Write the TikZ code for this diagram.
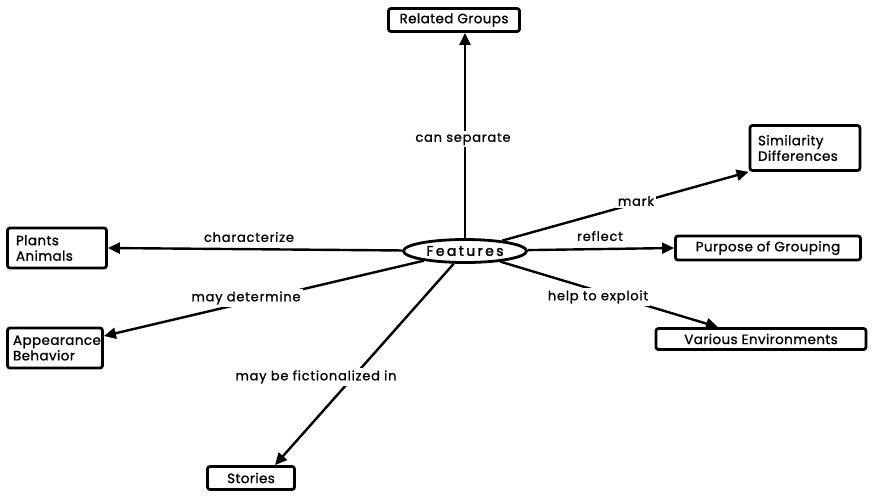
\documentclass[tikz,border=0pt]{standalone}
\usepackage{fontspec}
\setmainfont{Poppins}[FakeBold=1]
\usetikzlibrary{arrows.meta,shapes.geometric}
\begin{document}
\begin{tikzpicture}[x=1pt,y=-1pt,
  concept/.style={draw,line width=2.8pt,rounded corners=2.5pt,inner sep=0pt,
    font=\fontsize{13.5}{15.5}\selectfont\addfontfeatures{LetterSpace=3},align=left},
  hub/.style={draw,ellipse,line width=2.8pt,inner sep=0pt,
    minimum width=123pt,minimum height=23pt,
    font=\fontsize{14}{15}\selectfont\addfontfeatures{LetterSpace=17,FakeBold=2}},
  link/.style={line width=2.4pt,-{Triangle[length=12pt,width=11pt]}},
  lbl/.style={fill=white,inner sep=2pt,
    font=\fontsize{13}{15}\selectfont\addfontfeatures{LetterSpace=6}}]
\useasboundingbox (0,0) rectangle (878,496);

% central concept and its neighbours
\node[hub] (feat) at (465,251) {Features};
\node[concept,minimum width=131pt,minimum height=23pt] (rel) at (454,20) {Related Groups};
\node[concept,minimum width=110pt,minimum height=45pt,text width=94pt] (sim) at (805,148) {Similarity\\Differences};
\node[concept,minimum width=185pt,minimum height=24pt] (purp) at (768,248) {Purpose of Grouping};
\node[concept,minimum width=210pt,minimum height=21pt] (var) at (761,339) {Various Environments};
\node[concept,minimum width=99pt,minimum height=40pt,text width=82pt] (plant) at (57,248) {Plants\\Animals};
\node[concept,minimum width=95pt,minimum height=40pt,text width=84pt] (app) at (55,348) {Appearance\\Behavior};
\node[concept,minimum width=87pt,minimum height=23pt] (story) at (251,478) {Stories};

% links
\draw[link] (feat.north) -- (feat.north |- rel.south);
\draw[link] (feat) -- (sim.south west);
\draw[link] (feat) -- (purp.west);
\draw[link] (feat) -- ([xshift=-43pt]var.north);
\draw[link] (feat) -- (plant.east);
\draw[link] (feat) -- ([yshift=12pt]app.east);
\draw[link] (feat) -- ([xshift=24pt]story.north);

% link labels
\node[lbl] (lsep) at (463,139) {can separate};
\node[lbl] (lmark) at (636,201) {mark};
\node[lbl,fill=none] (lrefl) at (600,236) {reflect};
\node[lbl] (lexpl) at (598,297) {help to exploit};
\node[lbl,fill=none] (lchar) at (249,237) {characterize};
\node[lbl] (ldet) at (246,298) {may determine};
\node[lbl] (lfict) at (316,377) {may be fictionalized in};
\end{tikzpicture}
\end{document}
